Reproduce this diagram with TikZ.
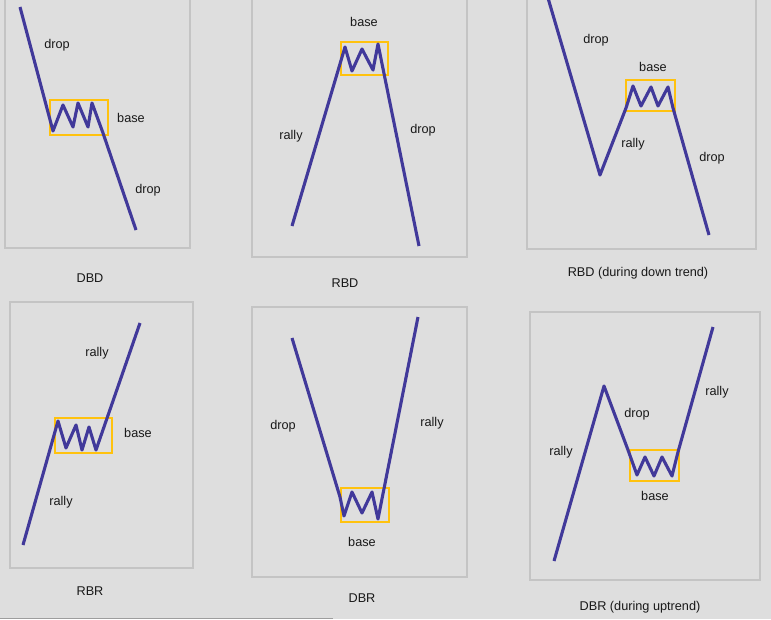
\documentclass[tikz,border=0pt]{standalone}
\usepackage{fontspec}
\setmainfont{Liberation Sans}
\definecolor{pnbg}{HTML}{DEDEDE}
\definecolor{pnframe}{HTML}{C4C4C4}
\definecolor{pxline}{HTML}{41399A}
\definecolor{bsbox}{HTML}{FFC20E}
\usetikzlibrary{positioning}

\begin{document}
\begin{tikzpicture}[x=1pt,y=-1pt,
  panel/.style={draw=pnframe,line width=2.8pt},
  price/.style={draw=pxline,line width=3.1pt,line join=round},
  basebox/.style={draw=bsbox,line width=2.8pt},
  lbl/.style={font=\fontsize{12.7}{15}\selectfont,inner sep=0pt,text=black!90},
  capline/.style={lbl}]
  \fill[pnbg] (0,0) rectangle (771,619);
  \useasboundingbox (0,0) rectangle (771,619);
  \draw[pnframe!80!black,line width=1pt] (0,618.5) -- (333,618.5);

  % DBD
  \draw[panel] (5,-5) rectangle (190,248);
  \draw[basebox] (50,100) rectangle (108,135);
  \draw[price] (20,7) -- (53,131) -- (63,105) -- (73,127) -- (78,103) -- (88,127)
    -- (92,103) -- (103,133) -- (136,230);
  \node[lbl] (dbdA) at (57,45) {drop};
  \node[lbl] (dbdB) at (131,118) {base};
  \node[lbl] (dbdC) at (148,190) {drop};
  \node[capline] (dbdT) at (90,278) {DBD};

  % RBD
  \draw[panel] (252,-5) rectangle (467,257);
  \draw[basebox] (341,42) rectangle (388,75);
  \draw[price] (292,226) -- (345,47) -- (352,71) -- (362,49) -- (373,70)
    -- (378,44) -- (419,246);
  \node[lbl] (rbdA) at (364,22) {base};
  \node[lbl] (rbdB) at (291,136) {rally};
  \node[lbl] (rbdC) at (423,130) {drop};
  \node[capline] (rbdT) at (345,283) {RBD};

  % RBD in a down trend
  \draw[panel] (527,-5) rectangle (756,249);
  \draw[basebox] (626,80) rectangle (675,111);
  \draw[price] (548,-2) -- (600,175) -- (626,108) -- (633,86) -- (641,106)
    -- (651,87) -- (658,106) -- (668,87) -- (673,108) -- (709,235);
  \node[lbl] (rdtA) at (596,40) {drop};
  \node[lbl] (rdtB) at (653,67) {base};
  \node[lbl] (rdtC) at (633,144) {rally};
  \node[lbl] (rdtD) at (712,158) {drop};
  \node[capline] (rdtT) at (638,273) {RBD (during down trend)};

  % RBR
  \draw[panel] (10,302) rectangle (193,568);
  \draw[basebox] (55,418) rectangle (112,453);
  \draw[price] (23,545) -- (58,421) -- (66,448) -- (76,425) -- (82,450)
    -- (89,427) -- (96,450) -- (140,323);
  \node[lbl] (rbrA) at (97,353) {rally};
  \node[lbl] (rbrB) at (138,433) {base};
  \node[lbl] (rbrC) at (61,502) {rally};
  \node[capline] (rbrT) at (90,591) {RBR};

  % DBR
  \draw[panel] (252,307) rectangle (467,577);
  \draw[basebox] (341,488) rectangle (389,522);
  \draw[price] (292,338) -- (340,497) -- (344,516) -- (352,492) -- (362,513)
    -- (372,492) -- (378,519) -- (418,317);
  \node[lbl] (dbrA) at (283,426) {drop};
  \node[lbl] (dbrB) at (432,423) {rally};
  \node[lbl] (dbrC) at (362,542) {base};
  \node[capline] (dbrT) at (362,598) {DBR};

  % DBR in an uptrend
  \draw[panel] (530,312) rectangle (760,580);
  \draw[basebox] (630,450) rectangle (679,481);
  \draw[price] (554,561) -- (604,386) -- (628,450) -- (637,475) -- (645,457)
    -- (654,476) -- (662,457) -- (672,476) -- (678,452) -- (713,327);
  \node[lbl] (dutA) at (561,452) {rally};
  \node[lbl] (dutB) at (637,414) {drop};
  \node[lbl] (dutC) at (717,392) {rally};
  \node[lbl] (dutD) at (655,496) {base};
  \node[capline] (dutT) at (640,607) {DBR (during uptrend)};
\end{tikzpicture}
\end{document}
